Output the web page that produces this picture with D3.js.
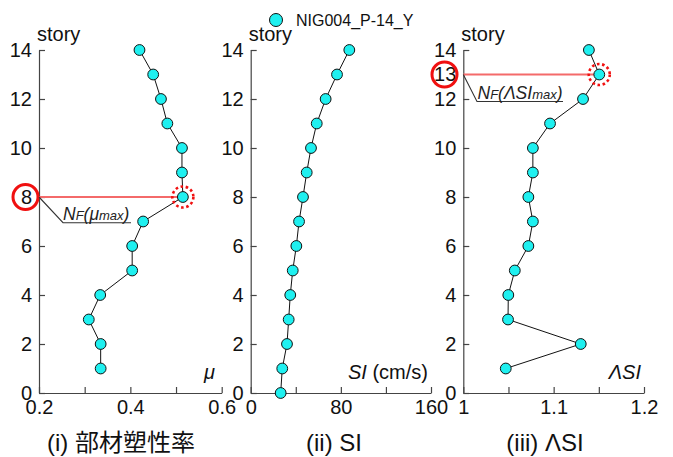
<!DOCTYPE html>
<html>
<head>
<meta charset="utf-8">
<script src="https://cdn.jsdelivr.net/npm/d3@7"></script>
<style>
  body { margin: 0; background: #fff; }
  svg text { font-family: "Liberation Sans", Arial, sans-serif; }
</style>
</head>
<body>
<svg id="chart" width="673" height="457"></svg>
<script>
// story numbers and values
var storiesMu = [1, 2, 3, 4, 5, 6, 7, 8, 9, 10, 11, 12, 13, 14];
var muValues = [0.335, 0.335, 0.309, 0.334, 0.404, 0.404, 0.428, 0.515, 0.513, 0.513, 0.481, 0.467, 0.45, 0.42];

var storiesSI = [0, 1, 2, 3, 4, 5, 6, 7, 8, 9, 10, 11, 12, 13, 14];
var siValues = [26.6, 28.0, 32.2, 33.7, 35.1, 37.3, 40.5, 42.9, 46.4, 49.7, 53.5, 58.6, 66.5, 76.6, 87.5];

var storiesLSI = [1, 2, 3, 4, 5, 6, 7, 8, 9, 10, 11, 12, 13, 14];
var lsiValues = [1.047, 1.130, 1.0495, 1.0498, 1.057, 1.072, 1.077, 1.072, 1.077, 1.077, 1.096, 1.1325, 1.1505, 1.139];

var storyTicks = [0, 2, 4, 6, 8, 10, 12, 14];
var seriesName = "NIG004_P-14_Y";

var svg = d3.select("#chart");
var cyan = "#1ff0f0";
var axisColor = "#444";

var y = d3.scaleLinear().domain([0, 14]).range([393, 50]);

var panels = [
    {
        x0: 39, x1: 221.7, domain: [0.2, 0.6],
        ticks: [0.2, 0.3, 0.4, 0.5, 0.6], labels: [0.2, 0.4, 0.6],
        fmt: d3.format(".1f"),
        stories: storiesMu, values: muValues,
        title: "(i) 部材塑性率", titleX: 121,
        peak: 8, sub: "μ"
    },
    {
        x0: 250.7, x1: 431, domain: [0, 160],
        ticks: [0, 40, 80, 120, 160], labels: [0, 80, 160],
        fmt: d3.format("d"),
        stories: storiesSI, values: siValues,
        title: "(ii) SI", titleX: 334
    },
    {
        x0: 463.3, x1: 644, domain: [1, 1.2],
        ticks: [1, 1.05, 1.1, 1.15, 1.2], labels: [1, 1.1, 1.2],
        fmt: function(d) { return d === 1 ? "1" : d3.format(".1f")(d); },
        stories: storiesLSI, values: lsiValues,
        title: "(iii) ΛSI", titleX: 545,
        peak: 13, sub: "ΛSI"
    }
];

panels.forEach(function(p, i) {
    var x = d3.scaleLinear().domain(p.domain).range([p.x0, p.x1]);
    p.x = x;
    var g = svg.append("g");

    // y axis (with the peak story labelled too when it is not a regular tick)
    var yt = storyTicks.slice();
    if (p.peak !== undefined && yt.indexOf(p.peak) < 0) yt.push(p.peak);
    var yAxis = g.append("g")
        .attr("transform", "translate(" + p.x0 + ",0)")
        .call(d3.axisLeft(y).tickValues(yt).tickSizeInner(-6).tickSizeOuter(0).tickPadding(7));
    yAxis.selectAll(".tick").filter(function(d) { return storyTicks.indexOf(d) < 0; })
        .select("line").remove();
    // x axis
    var xAxis = g.append("g")
        .attr("transform", "translate(0," + y(0) + ")")
        .call(d3.axisBottom(x).tickValues(p.ticks).tickSizeInner(-6).tickSizeOuter(0).tickPadding(7)
            .tickFormat(function(d) {
                return p.labels.some(function(l) { return Math.abs(l - d) < 1e-9; }) ? p.fmt(d) : "";
            }));
    [yAxis, xAxis].forEach(function(a) {
        a.selectAll("path, line").attr("stroke", axisColor).attr("stroke-width", 1.2);
        a.selectAll("text").attr("fill", "#111").style("font-size", "20px")
            .style("font-family", "'Liberation Sans', Arial, sans-serif");
    });

    g.append("text")
        .attr("x", p.x0 - 2).attr("y", 41)
        .style("font-size", "20px").attr("fill", "#111")
        .text("story");

    g.append("text")
        .attr("x", p.titleX).attr("y", 451)
        .attr("text-anchor", "middle")
        .style("font-size", "24px").attr("fill", "#111")
        .style("font-family", "'Liberation Sans', 'Noto Sans CJK JP', sans-serif")
        .text(p.title);

    // data
    var line = d3.line()
        .x(function(d) { return x(d[0]); })
        .y(function(d) { return y(d[1]); });
    var pts = p.values.map(function(v, k) { return [v, p.stories[k]]; });

    if (p.peak !== undefined) {
        var pk = pts.filter(function(d) { return d[1] === p.peak; })[0];
        g.append("line")
            .attr("x1", p.x0).attr("x2", x(pk[0]))
            .attr("y1", y(p.peak)).attr("y2", y(p.peak))
            .attr("stroke", "#f46a6a").attr("stroke-width", 1.8);
    }

    g.append("path")
        .datum(pts)
        .attr("d", line)
        .attr("fill", "none")
        .attr("stroke", "#111")
        .attr("stroke-width", 1);

    g.selectAll("circle.pt")
        .data(pts)
        .enter()
        .append("circle")
        .attr("class", "pt")
        .attr("cx", function(d) { return x(d[0]); })
        .attr("cy", function(d) { return y(d[1]); })
        .attr("r", 5.4)
        .attr("fill", cyan)
        .attr("stroke", "#111")
        .attr("stroke-width", 1);
});

// axis name labels
var p1 = panels[0], p2 = panels[1], p3 = panels[2];
svg.append("text").attr("x", 215).attr("y", 379).attr("text-anchor", "end")
    .style("font-size", "20px").style("font-style", "italic").attr("fill", "#111").text("μ");
var siLab = svg.append("text").attr("x", 428).attr("y", 379).attr("text-anchor", "end")
    .style("font-size", "20px").attr("fill", "#111");
siLab.append("tspan").style("font-style", "italic").text("SI");
siLab.append("tspan").text(" (cm/s)");
svg.append("text").attr("x", 641).attr("y", 379).attr("text-anchor", "end")
    .style("font-size", "20px").style("font-style", "italic").attr("fill", "#111").text("ΛSI");

// peak annotations
function annotate(p, labelX, leader, textX, textY, endX) {
    var pk = p.values[p.stories.indexOf(p.peak)];
    var cy = y(p.peak);
    svg.append("circle")
        .attr("cx", p.x(pk)).attr("cy", cy).attr("r", 10.5)
        .attr("fill", "none").attr("stroke", "#f01010")
        .attr("stroke-width", 2.6).attr("stroke-dasharray", "2.6 2.6");
    svg.append("circle")
        .attr("cx", labelX).attr("cy", cy).attr("r", 12.5)
        .attr("fill", "none").attr("stroke", "#f01010").attr("stroke-width", 3);
    svg.append("polyline")
        .attr("points", [[p.x0, cy], leader, [endX, leader[1]]].map(function(d) { return d.join(","); }).join(" "))
        .attr("fill", "none").attr("stroke", "#333").attr("stroke-width", 1.1);
    var t = svg.append("text").attr("x", textX).attr("y", textY)
        .style("font-style", "italic").attr("fill", "#222").style("font-size", "17.5px");
    t.append("tspan").text("N");
    t.append("tspan").style("font-size", "13px").text("F");
    t.append("tspan").text("(" + p.sub);
    t.append("tspan").style("font-size", "13px").text("max");
    t.append("tspan").text(")");
}
annotate(p1, 25.5, [63, 222.7], 63, 220, 131);
annotate(p3, 444.5, [477, 101.5], 477.5, 99, 563);

// legend
svg.append("circle").attr("cx", 276).attr("cy", 20).attr("r", 6.5)
    .attr("fill", cyan).attr("stroke", "#111").attr("stroke-width", 1);
svg.append("text").attr("x", 296).attr("y", 26)
    .style("font-size", "16px").attr("fill", "#111").text(seriesName);
</script>
</body>
</html>
